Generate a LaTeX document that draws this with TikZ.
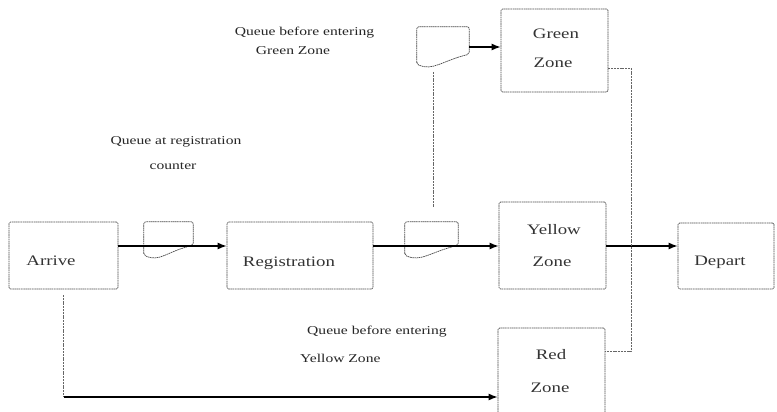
\documentclass[tikz,border=0pt]{standalone}
\usepackage{fontspec}
\setmainfont{Liberation Serif}
\newfontfamily\boxfont{Liberation Serif}[FakeStretch=1.3]
\usetikzlibrary{arrows.meta,calc}
\newcommand\queueshape[1]{%
  \draw[boxline, rounded corners=2pt] ($(#1.south west)+(0,-4)$) -- (#1.north west) -- (#1.north east) -- ($(#1.south east)+(0,-14)$)
    .. controls ($(#1.south east)+(-28,-7)$) and ($(#1.south west)+(16,3)$) .. ($(#1.south west)+(0,-4)$) -- cycle;}
\begin{document}
\begin{tikzpicture}[x=1pt,y=-1pt,
  boxline/.style={draw=black!70, line width=0.7pt, dash pattern=on 1.6pt off 0.6pt},
  zonebox/.style={boxline, rounded corners=1.5pt, inner sep=0pt},
  qbox/.style={draw=none, inner sep=0pt},
  boxtext/.style={font=\boxfont\fontsize{14.5}{16}\selectfont, inner sep=0pt, text=black!80},
  lbl/.style={font=\boxfont\fontsize{12}{14}\selectfont, inner sep=0pt, text=black!85},
  flow/.style={line width=1.3pt, -{Latex[length=9pt,width=7pt]}},
  thinline/.style={draw=black!60, line width=0.6pt, dash pattern=on 2pt off 0.8pt}
]
\useasboundingbox (0,0) rectangle (777,412);
\clip (0,0) rectangle (777,412);

% boxes
\node[zonebox, minimum width=109pt, minimum height=67pt] (arrive) at (63.5,255.5) {};
\node[zonebox, minimum width=146pt, minimum height=67pt] (reg) at (300,255.5) {};
\node[zonebox, minimum width=107pt, minimum height=87pt] (yellow) at (552.5,245.5) {};
\node[zonebox, minimum width=96pt, minimum height=66pt] (depart) at (726,256) {};
\node[zonebox, minimum width=107pt, minimum height=83pt] (green) at (554.5,50.5) {};
\node[zonebox, minimum width=107pt, minimum height=112pt] (red) at (551.5,384) {};

% queues
\node[qbox, minimum width=49pt, minimum height=37pt] (q1) at (168.5,240.5) {};
\node[qbox, minimum width=53pt, minimum height=37pt] (q2) at (431.5,240.5) {};
\node[qbox, minimum width=52pt, minimum height=41pt] (qg) at (443,47.5) {};
\queueshape{q1}
\queueshape{q2}
\queueshape{qg}

% box texts
\node[boxtext] (tarrive) at (51,261) {Arrive};
\node[boxtext] (treg) at (289,263) {Registration};
\node[boxtext] (tyel1) at (554,230) {Yellow};
\node[boxtext] (tyel2) at (552,262) {Zone};
\node[boxtext] (tdep) at (720,262) {Depart};
\node[boxtext] (tgrn1) at (556,34) {Green};
\node[boxtext] (tgrn2) at (553,63) {Zone};
\node[boxtext] (tred1) at (551,355) {Red};
\node[boxtext] (tred2) at (550,388) {Zone};

% labels
\node[lbl] (lg1) at (304.5,33) {Queue before entering};
\node[lbl] (lg2) at (293,51) {Green Zone};
\node[lbl] (lr1) at (176,142) {Queue at registration};
\node[lbl] (lr2) at (173,166) {counter};
\node[lbl, anchor=west] (ly1) at (307,332) {Queue before entering};
\node[lbl, anchor=west] (ly2) at (300,358) {Yellow Zone};

% connectors
\coordinate (mainrow) at (0,246);
\draw[flow] (arrive.east |- mainrow) -- (reg.west |- mainrow);
\draw[flow] (reg.east |- mainrow) -- (yellow.west |- mainrow);
\draw[flow] (yellow.east |- mainrow) -- (depart.west |- mainrow);
\draw[flow] (qg.east |- 0,47) -- (green.west |- 0,47);

\coordinate (v1) at (433.5,72);
\coordinate (v2) at (433.5,207);
\draw[thinline] (v1) -- (v2);

\coordinate (gr1) at (631,68);
\coordinate (gr2) at (631,351);
\draw[thinline] (green.east |- gr1) -- (gr1) -- (gr2) -- (red.east |- gr2);

\coordinate (a1) at (63.5,295);
\coordinate (ar) at (63.5,397);
\draw[thinline] (a1) -- (ar);
\draw[flow] (ar) -- (red.west |- ar);
\end{tikzpicture}
\end{document}
